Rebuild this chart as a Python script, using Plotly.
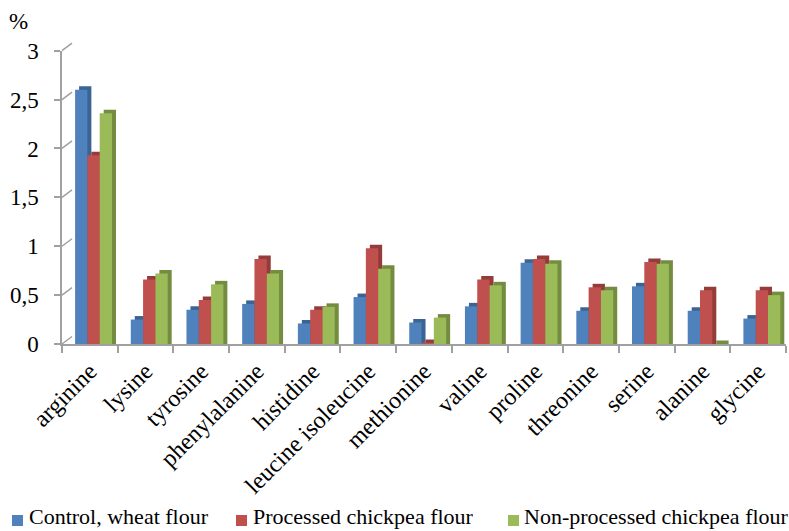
import plotly.graph_objects as go

# Amino acid content, %
amino_acids = ["arginine", "lysine", "tyrosine", "phenylalanine", "histidine",
               "leucine isoleucine", "methionine", "valine", "proline",
               "threonine", "serine", "alanine", "glycine"]
control_wheat = [2.60, 0.25, 0.35, 0.41, 0.21, 0.48, 0.22, 0.385, 0.83, 0.34, 0.59, 0.34, 0.26]
processed_chickpea = [1.93, 0.66, 0.45, 0.87, 0.35, 0.98, 0.01, 0.66, 0.87, 0.58, 0.84, 0.55, 0.55]
nonprocessed_chickpea = [2.36, 0.72, 0.61, 0.72, 0.38, 0.77, 0.27, 0.60, 0.82, 0.55, 0.82, 0.00, 0.50]

series_names = ["Control, wheat flour", "Processed chickpea flour", "Non-processed chickpea flour"]
y_tick_vals = [0, 0.5, 1, 1.5, 2, 2.5, 3]
y_tick_text = ["0", "0,5", "1", "1,5", "2", "2,5", "3"]

W, H = 789, 531
FONT = "Times New Roman, Liberation Serif, Times, serif"
FS = 23
X_FS = 24
LEGEND_FS = 22
GREY = "#A0A0A0"

front_colors = ["#4F81BD", "#C0504D", "#9BBB59"]
side_colors = ["#3A6494", "#933C3A", "#738C40"]

# pixel geometry of the front plane (ticks) and back wall (gridlines)
x_left, x_right = 62, 786
y_zero, y_top = 344, 50.7
depth_dx, depth_dy = 10, 7.5          # back wall offset
bar_dx, bar_dy = 4, 3.5               # bar side/top face depth

px_per_unit = (y_zero - y_top) / 3
cat_w = (x_right - x_left) / len(amino_acids)
bar_w = 12.3 / cat_w
first_offset = -0.265


def py(p):
    return 1 - p / H


fig = go.Figure()

# bars on the front axes (x2/y2) so they sit above the back-wall grid
all_series = [control_wheat, processed_chickpea, nonprocessed_chickpea]
for i, (name, vals) in enumerate(zip(series_names, all_series)):
    off = first_offset + i * bar_w
    fig.add_trace(go.Bar(
        x=amino_acids, y=[v + bar_dy / px_per_unit for v in vals],
        offset=off + bar_dx / cat_w, width=bar_w,
        marker=dict(color=side_colors[i], line=dict(width=0)),
        showlegend=False, hoverinfo="skip", xaxis="x2", yaxis="y2"))
    fig.add_trace(go.Bar(
        x=amino_acids, y=vals, name=name,
        offset=off, width=bar_w,
        marker=dict(color=front_colors[i], line=dict(width=0)),
        showlegend=False, xaxis="x2", yaxis="y2"))

# back wall with gridlines
fig.update_layout(
    xaxis=dict(domain=[(x_left + depth_dx) / W, 1], range=[0, 1],
               showgrid=False, zeroline=False, showticklabels=False,
               ticks="", anchor="y"),
    yaxis=dict(domain=[py(y_zero - depth_dy), py(y_top - depth_dy)], range=[0, 3],
               tickvals=y_tick_vals, showticklabels=False, ticks="",
               showgrid=True, gridcolor=GREY, gridwidth=1.8,
               zeroline=True, zerolinecolor=GREY, zerolinewidth=1.8, anchor="x"),
)

# front plane axes with ticks and labels
fig.update_layout(
    xaxis2=dict(domain=[x_left / W, x_right / W], range=[-0.5, len(amino_acids) - 0.5],
                type="category", categoryorder="array", categoryarray=amino_acids,
                showline=True, linecolor=GREY, linewidth=1.5,
                ticks="outside", tickson="boundaries", ticklen=7,
                tickcolor=GREY, tickwidth=1.5, tickangle=-45,
                tickfont=dict(family=FONT, size=X_FS, color="black"),
                ticklabelstandoff=2,
                showgrid=False, zeroline=False, anchor="y2", automargin=False),
    yaxis2=dict(domain=[py(y_zero), py(y_top)], range=[0, 3],
                tickvals=y_tick_vals, ticktext=y_tick_text,
                showline=True, linecolor=GREY, linewidth=1.5,
                ticks="outside", ticklen=6, tickcolor=GREY, tickwidth=1.5,
                tickfont=dict(family=FONT, size=FS, color="black"),
                ticklabelstandoff=11,
                showgrid=False, zeroline=False, anchor="x2", automargin=False),
)

# diagonal connectors from the front ticks to the back wall
x0p, x1p = x_left / W, (x_left + depth_dx) / W
for v in y_tick_vals:
    yf = y_zero - v * px_per_unit
    fig.add_shape(type="line", xref="paper", yref="paper",
                  x0=x0p, x1=x1p, y0=py(yf), y1=py(yf - depth_dy),
                  line=dict(color=GREY, width=1.5))

fig.add_annotation(text="%", xref="paper", yref="paper",
                   x=18.5 / W, y=py(22), showarrow=False,
                   xanchor="center", yanchor="middle",
                   font=dict(family=FONT, size=FS, color="black"))

# legend row along the bottom edge
legend_key_x = [12, 236, 508]
legend_text_x = [27, 251, 522]
legend_y = 516
for name, col, kx, tx in zip(series_names, front_colors, legend_key_x, legend_text_x):
    fig.add_shape(type="rect", xref="paper", yref="paper",
                  x0=kx / W, x1=(kx + 11) / W, y0=py(legend_y + 10), y1=py(legend_y - 1),
                  fillcolor=col, line=dict(width=0))
    fig.add_annotation(text=name, xref="paper", yref="paper",
                       x=tx / W, y=py(legend_y), showarrow=False,
                       xanchor="left", yanchor="middle",
                       font=dict(family=FONT, size=LEGEND_FS, color="black"))

fig.update_layout(
    width=W, height=H,
    margin=dict(l=0, r=0, t=0, b=0),
    paper_bgcolor="white", plot_bgcolor="rgba(0,0,0,0)",
    barmode="overlay", showlegend=False,
    font=dict(family=FONT, color="black"),
)

fig.write_html("out.html")
